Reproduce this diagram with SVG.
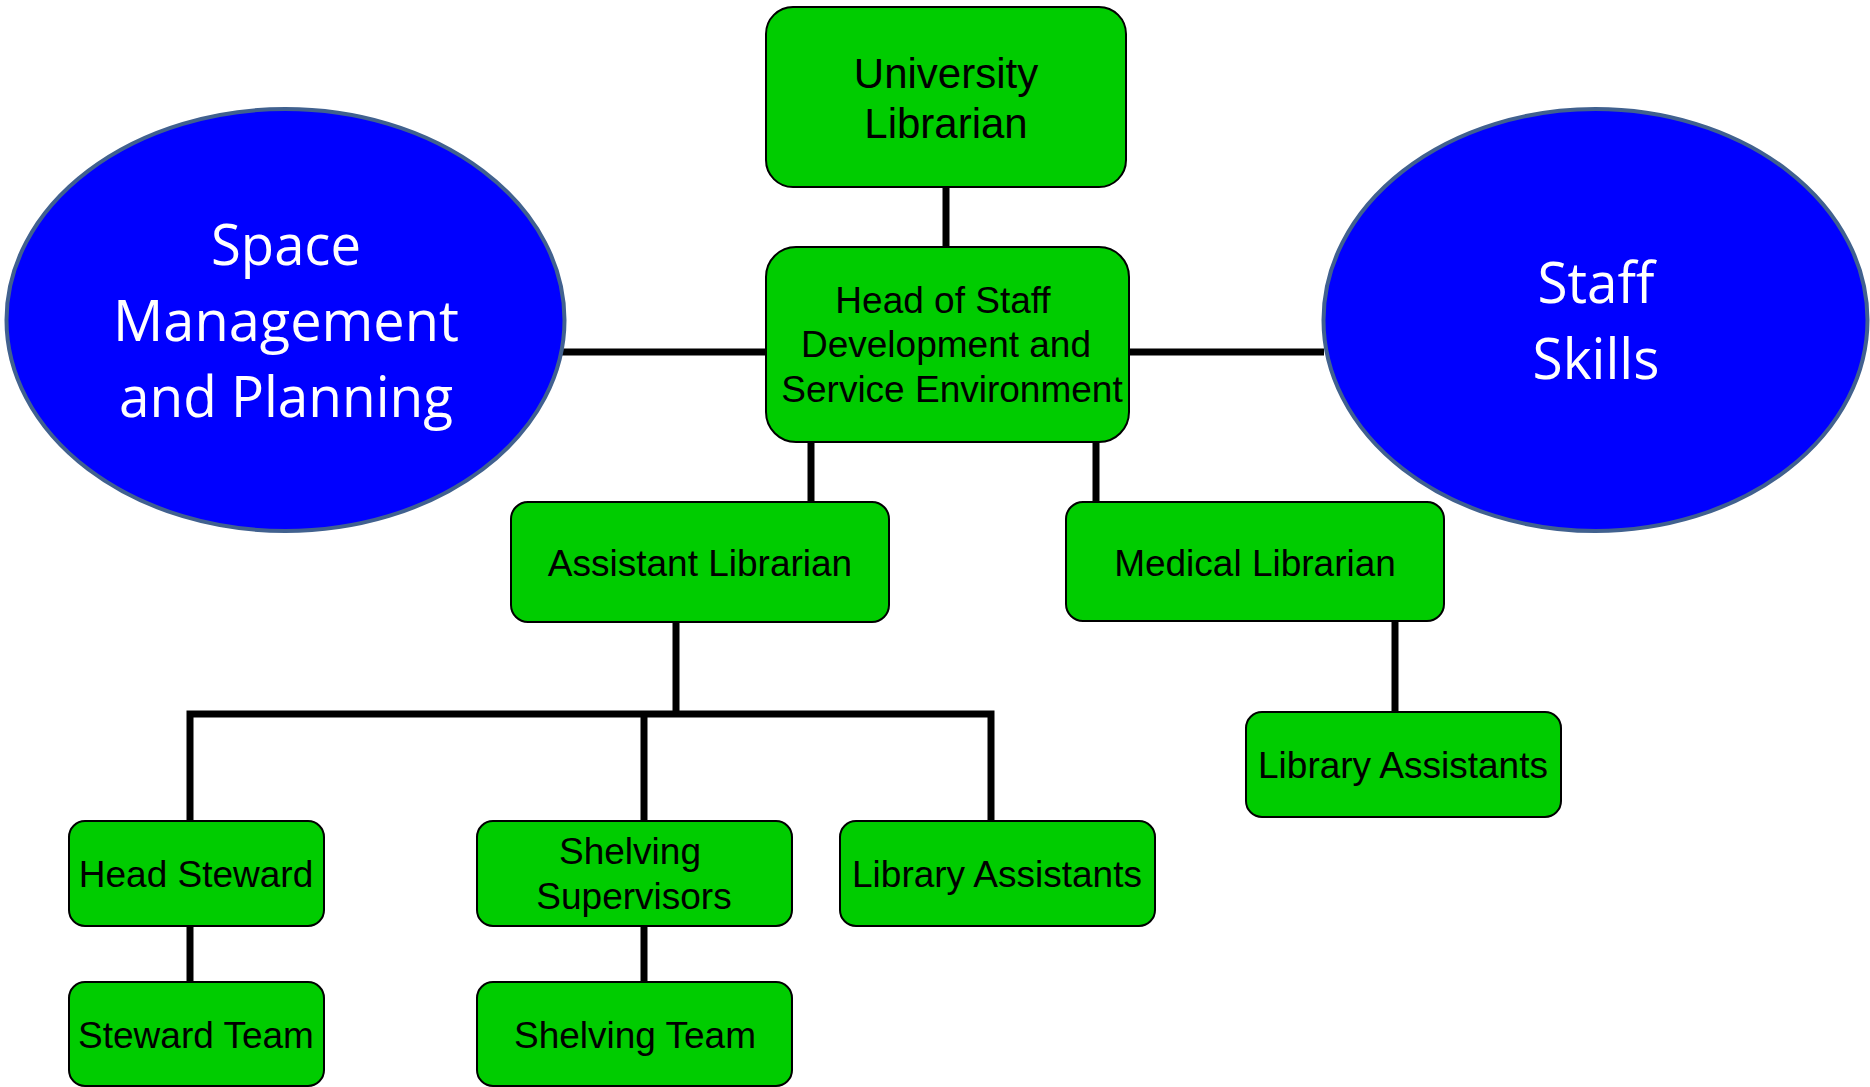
<svg xmlns="http://www.w3.org/2000/svg" width="1870" height="1087" viewBox="0 0 1870 1087">
<style>
.box{fill:#00CC00;stroke:#000;stroke-width:2}
.ell{fill:#0000FF;stroke:#41618F;stroke-width:4}
.t{font-family:"Liberation Sans",Arial,sans-serif;font-size:37px;fill:#000;text-anchor:middle}
.e{font-family:"Open Sans","Noto Sans",sans-serif;font-size:56px;fill:#fff;text-anchor:middle}
.c{stroke:#000;stroke-width:7;fill:none}
</style>
<rect width="1870" height="1087" fill="#fff"/>
<g id="connectors">
<line class="c" x1="946" y1="187" x2="946" y2="247"/>
<line class="c" x1="556" y1="352" x2="766" y2="352"/>
<line class="c" x1="1128" y1="352" x2="1324" y2="352"/>
<line class="c" x1="811" y1="442" x2="811" y2="502"/>
<line class="c" x1="1096" y1="442" x2="1096" y2="502"/>
<line class="c" x1="676" y1="622" x2="676" y2="714"/>
<polyline class="c" points="190,821 190,714 991,714 991,821" stroke-linejoin="miter"/>
<line class="c" x1="644" y1="714" x2="644" y2="821"/>
<line class="c" x1="1395" y1="621" x2="1395" y2="712"/>
<line class="c" x1="190" y1="926" x2="190" y2="986"/>
<line class="c" x1="644" y1="926" x2="644" y2="986"/>
</g>
<g id="space">
<ellipse class="ell" cx="285.5" cy="320" rx="279" ry="211"/>
<text class="e" x="286" y="265" textLength="150" lengthAdjust="spacingAndGlyphs">Space</text>
<text class="e" x="286" y="341" textLength="346" lengthAdjust="spacingAndGlyphs">Management</text>
<text class="e" x="286" y="417" textLength="334" lengthAdjust="spacingAndGlyphs">and Planning</text>
</g>
<g id="skills">
<ellipse class="ell" cx="1595.5" cy="320" rx="272" ry="211"/>
<text class="e" x="1596" y="303" textLength="117" lengthAdjust="spacingAndGlyphs">Staff</text>
<text class="e" x="1596" y="379" textLength="127" lengthAdjust="spacingAndGlyphs">Skills</text>
</g>
<g id="university-librarian">
<rect class="box" x="766" y="7" width="360" height="180" rx="27"/>
<text class="t" x="946" y="88" style="font-size:42px">University</text>
<text class="t" x="946" y="138" style="font-size:42px">Librarian</text>
</g>
<g id="head-of-staff">
<rect class="box" x="766" y="247" width="363" height="195" rx="30"/>
<text class="t" x="943" y="313">Head of Staff</text>
<text class="t" x="946" y="357">Development and</text>
<text class="t" x="952" y="402">Service Environment</text>
</g>
<g id="assistant-librarian">
<rect class="box" x="511" y="502" width="378" height="120" rx="17"/>
<text class="t" x="700" y="576">Assistant Librarian</text>
</g>
<g id="medical-librarian">
<rect class="box" x="1066" y="502" width="378" height="119" rx="17"/>
<text class="t" x="1255" y="576">Medical Librarian</text>
</g>
<g id="library-assistants-medical">
<rect class="box" x="1246" y="712" width="315" height="105" rx="16"/>
<text class="t" x="1403" y="778">Library Assistants</text>
</g>
<g id="head-steward">
<rect class="box" x="69" y="821" width="255" height="105" rx="16"/>
<text class="t" x="196" y="887">Head Steward</text>
</g>
<g id="steward-team">
<rect class="box" x="69" y="982" width="255" height="104" rx="16"/>
<text class="t" x="196" y="1048">Steward Team</text>
</g>
<g id="shelving-supervisors">
<rect class="box" x="477" y="821" width="315" height="105" rx="16"/>
<text class="t" x="630" y="864">Shelving</text>
<text class="t" x="634" y="909">Supervisors</text>
</g>
<g id="shelving-team">
<rect class="box" x="477" y="982" width="315" height="104" rx="16"/>
<text class="t" x="635" y="1048">Shelving Team</text>
</g>
<g id="library-assistants">
<rect class="box" x="840" y="821" width="315" height="105" rx="16"/>
<text class="t" x="997" y="887">Library Assistants</text>
</g>
</svg>
